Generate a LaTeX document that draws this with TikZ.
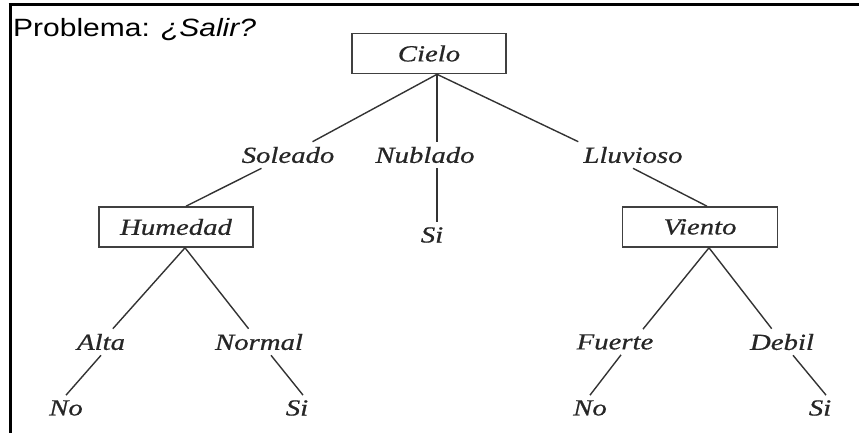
\documentclass[tikz,border=0pt]{standalone}
\usepackage{fontspec}
\setmainfont{Liberation Serif}
\newfontfamily\arbolfont[FakeStretch=1.25,FakeBold=0.7]{Liberation Serif}
\newfontfamily\titulofont[FakeStretch=1.2]{Liberation Sans}

\begin{document}
\begin{tikzpicture}[x=1pt, y=-1pt,
		caja/.style={draw=black!75, line width=1.6pt, minimum width=154pt, minimum height=40pt, inner sep=0pt, text=black!85, font=\arbolfont\itshape\fontsize{23}{27}\selectfont},
		etiqueta/.style={inner sep=5pt, text=black!85, font=\arbolfont\itshape\fontsize{23}{27}\selectfont},
		rama/.style={draw=black!80, line width=1.4pt}]
		%%%%% START %%%%%
		
		\useasboundingbox (0,0) rectangle (859,433);
		
		\draw[line width=2.5pt] (8.5,4.7) -- (859,4.7);
		\draw[line width=3pt] (10,3.5) -- (10,433);
		
		\node[anchor=base west, inner sep=0pt, font=\titulofont\fontsize{25}{30}\selectfont] (titulo) at (13,37) {Problema: \textit{¿Salir?}};
		
		\node[caja] (cielo) at (429,53.5) {Cielo};
		\coordinate (ctop) at ([xshift=8pt]cielo.south);
		
		\node[etiqueta] (soleado) at (288,155) {Soleado};
		\node[etiqueta] (nublado) at (425,155) {Nublado};
		\node[etiqueta] (lluvioso) at (633,155) {Lluvioso};
		
		\draw[rama] (ctop) -- (soleado);
		\draw[rama] (ctop) -- (nublado.north -| ctop);
		\draw[rama] (ctop) -- (lluvioso.north west);
		
		\node[caja] (humedad) at (176,227) {Humedad};
		\node[etiqueta] (si0) at (432,235) {Si};
		\node[caja, minimum width=155pt] (viento) at (700,227) {Viento};
		
		\draw[rama] (soleado) -- ([xshift=10pt]humedad.north);
		\draw[rama] (nublado.south -| ctop) -- (si0.north -| ctop);
		\draw[rama] (lluvioso.south) -- ([xshift=7pt]viento.north);
		
		\node[etiqueta] (alta) at (101,342) {Alta};
		\node[etiqueta] (normal) at (259,342) {Normal};
		\node[etiqueta] (fuerte) at (615,342) {Fuerte};
		\node[etiqueta] (debil) at (782,342) {Debil};
		
		\draw[rama] ([xshift=9pt]humedad.south) -- (alta);
		\draw[rama] ([xshift=9pt]humedad.south) -- (normal);
		\draw[rama] ([xshift=9pt]viento.south) -- ([xshift=28pt]fuerte.north);
		\draw[rama] ([xshift=9pt]viento.south) -- (debil);
		
		\node[etiqueta] (no1) at (66,408) {No};
		\node[etiqueta] (si1) at (297,408) {Si};
		\node[etiqueta] (no2) at (590,408) {No};
		\node[etiqueta] (si2) at (820,408) {Si};
		
		\draw[rama] (alta.south) -- (no1.north);
		\draw[rama] ([xshift=12pt]normal.south) -- ([xshift=6pt]si1.north);
		\draw[rama] ([xshift=6pt]fuerte.south) -- (no2.north);
		\draw[rama] ([xshift=11pt]debil.south) -- ([xshift=6pt]si2.north);
		
		%%%%% END %%%%%
	\end{tikzpicture}
\end{document}
